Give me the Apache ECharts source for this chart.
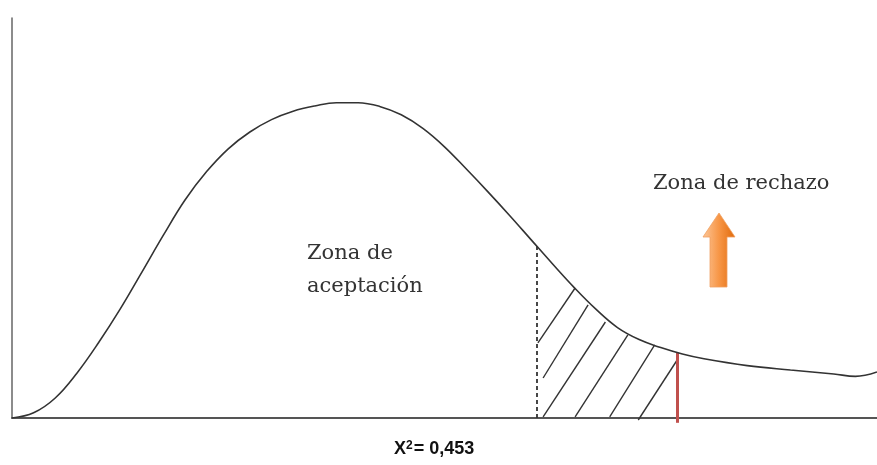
<!DOCTYPE html>
<html>
<head>
<meta charset="utf-8">
<script src="https://cdn.jsdelivr.net/npm/echarts@6/dist/echarts.min.js"></script>
<style>
  html, body { margin: 0; padding: 0; background: #fff; }
  #main { width: 877px; height: 465px; }
</style>
</head>
<body>
<div id="main"></div>
<script>
// curva chi cuadrado (unidades arbitrarias, eje x 0..10, eje y 0..10)
var curveX = [0, 0.25, 0.5, 0.75, 1, 1.25, 1.5, 1.75, 2, 2.25, 2.5, 2.75, 3, 3.25, 3.5, 3.75, 4, 4.25, 4.5, 4.75, 5, 5.25, 5.5, 5.75, 6, 6.25, 6.5, 6.75, 7, 7.25, 7.5, 7.75, 8, 8.5, 9, 9.5, 9.75, 10];
var curveY = [0, 0.13, 0.5, 1.12, 1.88, 2.72, 3.64, 4.57, 5.45, 6.16, 6.73, 7.15, 7.46, 7.67, 7.8, 7.88, 7.88, 7.79, 7.58, 7.24, 6.78, 6.23, 5.66, 5.07, 4.46, 3.85, 3.26, 2.72, 2.26, 1.96, 1.76, 1.6, 1.48, 1.31, 1.2, 1.1, 1.04, 1.15];

// rayado de la zona entre el valor critico y el estadistico
var hatchX1 = [6.08, 6.14, 6.14, 6.51, 6.91, 7.24];
var hatchY1 = [1.88, 1.0, 0.03, 0.03, 0.03, -0.05];
var hatchX2 = [6.51, 6.66, 6.86, 7.12, 7.43, 7.69];
var hatchY2 = [3.25, 2.83, 2.4, 2.08, 1.83, 1.45];

var criticalX = 6.07, criticalTop = 4.3;
var statX = 7.69, statBottom = -0.12, statTop = 1.63;

var curveData = curveX.map(function (x, i) { return [x, curveY[i]]; });
var hatchData = hatchX1.map(function (x, i) {
  return { coords: [[x, hatchY1[i]], [hatchX2[i], hatchY2[i]]] };
});

var serif = '"DejaVu Serif", "Liberation Serif", serif';

var myChart = echarts.init(document.getElementById('main'));
myChart.setOption({
  animation: false,
  grid: { left: 12, right: 0, top: 18, bottom: 47 },
  xAxis: {
    type: 'value', min: 0, max: 10,
    axisLine: { show: true, lineStyle: { color: '#555', width: 2 } },
    axisTick: { show: false }, axisLabel: { show: false }, splitLine: { show: false }
  },
  yAxis: {
    type: 'value', min: 0, max: 10,
    axisLine: { show: true, lineStyle: { color: '#666', width: 1.5 } },
    axisTick: { show: false }, axisLabel: { show: false }, splitLine: { show: false }
  },
  graphic: [
    { type: 'text', left: 653, top: 173, style: { text: 'Zona de rechazo', font: '21px ' + serif, fill: '#333' } },
    { type: 'text', left: 307, top: 243, style: { text: 'Zona de', font: '21px ' + serif, fill: '#333' } },
    { type: 'text', left: 307, top: 276, style: { text: 'aceptación', font: '21px ' + serif, fill: '#333' } },
    {
      type: 'text', left: 394, top: 440,
      style: {
        text: '{x|X}{s|2}{x|= 0,453}',
        rich: {
          x: { font: 'bold 18px "Liberation Sans", Arial, sans-serif', fill: '#111', verticalAlign: 'bottom' },
          s: { font: 'bold 12px "Liberation Sans", Arial, sans-serif', fill: '#111', verticalAlign: 'top', padding: [0, 1, 6, 0] }
        }
      }
    },
    {
      type: 'polygon',
      shape: { points: [[710, 287], [710, 237], [703, 237], [719, 213], [735, 237], [727, 237], [727, 287]] },
      style: {
        fill: new echarts.graphic.LinearGradient(0, 0, 1, 0, [
          { offset: 0, color: '#fcc79a' },
          { offset: 0.5, color: '#f79646' },
          { offset: 1, color: '#e0690a' }
        ]),
        stroke: '#f0a060', lineWidth: 0.8
      }
    }
  ],
  series: [
    {
      type: 'line', data: curveData, smooth: 0.4, symbol: 'none',
      lineStyle: { color: '#333', width: 1.6 }
    },
    {
      type: 'lines', coordinateSystem: 'cartesian2d', clip: false,
      data: hatchData,
      lineStyle: { color: '#333', width: 1.4, opacity: 1 }
    },
    {
      type: 'lines', coordinateSystem: 'cartesian2d', clip: false,
      data: [{ coords: [[criticalX, 0], [criticalX, criticalTop]] }],
      lineStyle: { color: '#333', width: 1.8, type: [4, 3], opacity: 1 }
    },
    {
      type: 'lines', coordinateSystem: 'cartesian2d', clip: false,
      data: [{ coords: [[statX, statBottom], [statX, statTop]] }],
      lineStyle: { color: '#c0504d', width: 3, opacity: 1 }
    }
  ]
});
</script>
</body>
</html>
